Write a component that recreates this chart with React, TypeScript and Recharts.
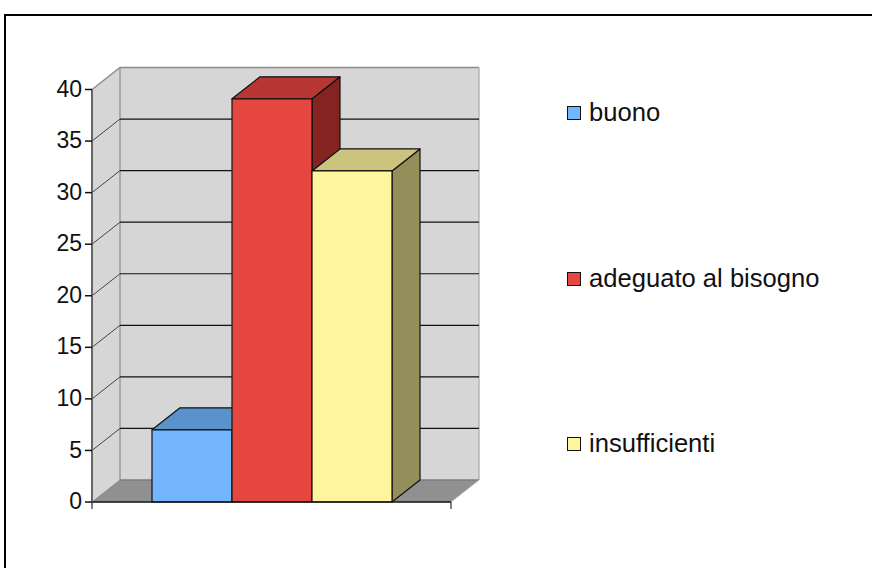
import { BarChart, Bar, XAxis, YAxis, Legend, ReferenceArea, ReferenceLine } from "recharts";

const categories = ["valutazione"];
const seriesNames = ["buono", "adeguato al bisogno", "insufficienti"];
const seriesValues = [7, 39.1, 32.1];
const yTicks = [0, 5, 10, 15, 20, 25, 30, 35, 40];

const frontColors = ["#73b5ff", "#e64640", "#fff59d"];
const topColors = ["#5a93cc", "#b83735", "#ccc47e"];
const sideColors = ["#456f99", "#852320", "#948f5a"];

const DX = 28;
const DY = 22;
const FONT = "'Liberation Sans', Arial, sans-serif";

const rows = categories.map((name) => {
  const row: any = { name };
  seriesNames.forEach((s, i) => {
    row[s] = seriesValues[i];
  });
  return row;
});

function Box({ x, y, width, height, index }: any) {
  const stroke = "#111";
  return (
    <g stroke={stroke} strokeWidth={1.2} strokeLinejoin="round">
      <polygon
        points={`${x + width},${y} ${x + width + DX},${y - DY} ${x + width + DX},${y + height - DY} ${x + width},${y + height}`}
        fill={sideColors[index]}
      />
      <polygon
        points={`${x},${y} ${x + DX},${y - DY} ${x + width + DX},${y - DY} ${x + width},${y}`}
        fill={topColors[index]}
      />
      <rect x={x} y={y} width={width} height={height} fill={frontColors[index]} />
    </g>
  );
}

function Walls({ x, y, width, height }: any) {
  const b = y + height;
  const r = x + width;
  return (
    <g>
      <polygon points={`${x},${y} ${x + DX},${y - DY} ${x + DX},${b - DY} ${x},${b}`} fill="#d6d6d6" />
      <rect x={x + DX} y={y - DY} width={width} height={height} fill="#d6d6d6" />
      <polygon points={`${x},${b} ${x + DX},${b - DY} ${r + DX},${b - DY} ${r},${b}`} fill="#909090" />
      <path
        d={`M${x},${y} L${x + DX},${y - DY} L${r + DX},${y - DY}`}
        fill="none"
        stroke="#8c8c8c"
        strokeWidth={1.5}
      />
      <line x1={x + DX} y1={y - DY} x2={x + DX} y2={b - DY} stroke="#9a9a9a" strokeWidth={1.5} />
      <line x1={r + DX} y1={y - DY} x2={r + DX} y2={b - DY} stroke="#b4b4b4" strokeWidth={1.5} />
      <line x1={x + DX} y1={b - DY} x2={r + DX} y2={b - DY} stroke="#7c7c7c" strokeWidth={1.5} />
      <line x1={x} y1={b} x2={x + DX} y2={b - DY} stroke="#8c8c8c" />
      <line x1={r} y1={b} x2={r + DX} y2={b - DY} stroke="#b4b4b4" />
      <line x1={x} y1={b} x2={x} y2={b + 7} stroke="#555" strokeWidth={1.5} />
      <line x1={r} y1={b} x2={r} y2={b + 7} stroke="#555" strokeWidth={1.5} />
    </g>
  );
}

function GridLine(props: any) {
  const { x1, y1, x2 } = props;
  return (
    <g stroke="#111" strokeWidth={1.2}>
      <line x1={x1} y1={y1} x2={x1 + DX} y2={y1 - DY} stroke="#444" strokeWidth={1} />
      <line x1={x1 + DX} y1={y1 - DY} x2={x2 + DX} y2={y1 - DY} />
    </g>
  );
}

function LegendBox({ payload }: any) {
  return (
    <div style={{ fontFamily: FONT, fontSize: 25.6, color: "#111" }}>
      {(payload || []).map((p: any) => (
        <div key={p.value} style={{ position: "absolute", left: 0, top: seriesNames.indexOf(p.value) * 165.5, whiteSpace: "nowrap", height: 28, lineHeight: "28px" }}>
          <span
            style={{
              position: "absolute",
              left: 0,
              top: 7,
              width: 12,
              height: 12,
              background: p.color,
              border: "1.5px solid #111",
            }}
          />
          <span style={{ position: "absolute", left: 22, top: -1 }}>{p.value}</span>
        </div>
      ))}
    </div>
  );
}

export default function App() {
  return (
    <div style={{ position: "absolute", left: 0, top: 0, width: 872, height: 568, background: "#fff", overflow: "hidden" }}>
      <div
        style={{
          position: "absolute",
          left: 4,
          top: 14,
          right: 0,
          bottom: 0,
          borderLeft: "2px solid #000",
          borderTop: "2px solid #000",
        }}
      />
      <BarChart
        width={872}
        height={568}
        data={rows}
        margin={{ top: 89.5, right: 421, bottom: 65, left: 91 }}
        barSize={80}
        barGap={0}
        style={{ position: "absolute", left: 0, top: 0 }}
      >
        <XAxis dataKey="name" tick={false} tickLine={false} axisLine={{ stroke: "#111", strokeWidth: 1.5 }} height={1} />
        <YAxis
          domain={[0, 40]}
          ticks={yTicks}
          width={1}
          interval={0}
          tick={{ fontFamily: FONT, fontSize: 23, fill: "#111", dy: -1 }}
          tickSize={7}
          tickMargin={3}
          tickLine={{ stroke: "#111", strokeWidth: 1.5 }}
          axisLine={{ stroke: "#666", strokeWidth: 2 }}
        />
        <ReferenceArea y1={0} y2={40} shape={Walls} />
        {yTicks.slice(1, -1).map((t) => (
          <ReferenceLine key={t} y={t} shape={GridLine} zIndex={150} />
        ))}
        {seriesNames.map((s, i) => (
          <Bar
            key={s}
            dataKey={s}
            fill={frontColors[i]}
            isAnimationActive={false}
            shape={(p: any) => <Box {...p} index={i} />}
          />
        ))}
        <Legend
          layout="vertical"
          content={<LegendBox />}
          wrapperStyle={{ position: "absolute", left: 567, top: 99, width: 280, height: 0 }}
        />
      </BarChart>
    </div>
  );
}
